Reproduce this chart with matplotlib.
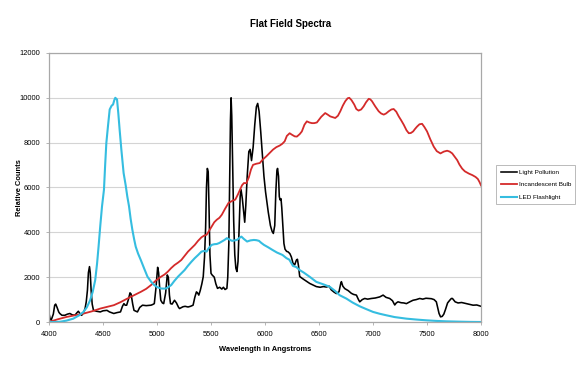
import numpy as np
import matplotlib
matplotlib.use('Agg')
import matplotlib.pyplot as plt
from matplotlib import ticker

plt.rcParams['font.family'] = ['Liberation Sans', 'DejaVu Sans']

# Light Pollution (wavelength, counts)
lp_wl = [4000, 4010, 4020, 4040, 4053, 4062, 4075, 4090, 4100, 4120, 4147, 4170, 4194, 4215,
         4240, 4260, 4272, 4290, 4303, 4320, 4334, 4345, 4356, 4365, 4375, 4382, 4390, 4400,
         4412, 4440, 4475, 4500, 4537, 4560, 4600, 4630, 4662, 4680, 4694, 4705, 4719, 4735,
         4750, 4760, 4775, 4787, 4805, 4819, 4840, 4866, 4900, 4944, 4960, 4975, 4990, 5006,
         5015, 5025, 5035, 5050, 5062, 5080, 5095, 5105, 5115, 5125, 5140, 5162, 5180, 5200,
         5209, 5240, 5260, 5287, 5310, 5334, 5350, 5365, 5375, 5387, 5400, 5415, 5428, 5440,
         5450, 5458, 5466, 5474, 5482, 5490, 5500, 5510, 5530, 5545, 5560, 5580, 5600, 5615,
         5630, 5647, 5655, 5665, 5672, 5680, 5686, 5692, 5700, 5710, 5720, 5730, 5740, 5750,
         5760, 5770, 5778, 5790, 5800, 5812, 5822, 5835, 5850, 5862, 5875, 5890, 5905, 5920,
         5932, 5945, 5960, 5975, 5990, 6005, 6015, 6030, 6050, 6065, 6077, 6090, 6100, 6110,
         6116, 6125, 6132, 6139, 6148, 6155, 6165, 6175, 6185, 6200, 6213, 6230, 6244, 6259,
         6275, 6290, 6300, 6310, 6321, 6346, 6380, 6414, 6445, 6475, 6510, 6540, 6568, 6593,
         6614, 6640, 6660, 6685, 6700, 6707, 6720, 6738, 6770, 6799, 6820, 6846, 6865, 6877,
         6900, 6923, 6950, 6985, 7020, 7062, 7093, 7120, 7154, 7180, 7201, 7215, 7231, 7260,
         7285, 7309, 7340, 7370, 7400, 7432, 7460, 7490, 7540, 7565, 7586, 7600, 7611, 7625,
         7640, 7655, 7670, 7690, 7710, 7725, 7735, 7760, 7787, 7820, 7864, 7900, 7926, 7960,
         8000]
lp_val = [400, 150, 80, 350, 750, 800, 650, 450, 380, 300, 300, 350, 380, 320,
          300, 420, 480, 350, 300, 420, 600, 900, 1420, 2200, 2470, 2200, 1420, 800,
          520, 480, 450, 500, 520, 450, 380, 420, 450, 700, 820, 750, 750, 1000,
          1300, 1250, 800, 520, 480, 450, 650, 750, 730, 750, 780, 820, 1500, 2440,
          2200, 1500, 970, 850, 820, 1300, 2100, 2000, 1200, 820, 800, 970, 850, 650,
          600, 680, 700, 670, 700, 750, 1100, 1345, 1300, 1200, 1400, 1700, 2020, 2900,
          4200, 6000, 6850, 6700, 5000, 3000, 2170, 2100, 2000, 1700, 1500, 1550, 1470, 1550,
          1450, 1500, 2000, 3500, 6000, 9000, 10000, 9200, 7000, 4500, 3000, 2400, 2250, 2700,
          4200, 5600, 5900, 5500, 5000, 4450, 5200, 6500, 7600, 7700, 7200, 7800, 8800, 9600,
          9750, 9400, 8500, 7500, 6500, 5800, 5440, 4900, 4300, 4050, 3950, 4300, 5800, 6750,
          6850, 6500, 5600, 5450, 5500, 5100, 4300, 3500, 3250, 3150, 3130, 3050, 2900, 2620,
          2550, 2760, 2800, 2500, 2030, 1940, 1830, 1720, 1650, 1580, 1550, 1580, 1560, 1600,
          1430, 1330, 1270, 1350, 1700, 1800, 1600, 1490, 1400, 1280, 1230, 1200, 1000, 900,
          1000, 1050, 1020, 1050, 1070, 1120, 1200, 1100, 1050, 950, 760, 850, 900, 860,
          850, 820, 900, 970, 1000, 1050, 1020, 1060, 1040, 1000, 900, 600, 380, 230,
          250, 350, 550, 850, 970, 1050, 1050, 900, 850, 870, 820, 780, 750, 760,
          700]

# Incandescent Bulb
ib_wl = [4000, 4080, 4162, 4240, 4319, 4400, 4475, 4540, 4600, 4660, 4725, 4790, 4850, 4900,
         4944, 4990, 5037, 5070, 5100, 5130, 5162, 5195, 5225, 5255, 5287, 5320, 5350, 5380,
         5412, 5435, 5459, 5480, 5506, 5530, 5553, 5578, 5600, 5630, 5662, 5695, 5725, 5750,
         5787, 5805, 5827, 5850, 5870, 5889, 5920, 5951, 5980, 6012, 6045, 6074, 6105, 6136,
         6160, 6182, 6202, 6228, 6250, 6275, 6295, 6321, 6341, 6365, 6387, 6410, 6434, 6455,
         6480, 6520, 6557, 6580, 6604, 6650, 6675, 6697, 6720, 6743, 6765, 6780, 6800, 6826,
         6845, 6866, 6890, 6913, 6935, 6960, 6975, 6990, 7020, 7052, 7075, 7099, 7120, 7145,
         7170, 7191, 7215, 7238, 7260, 7284, 7310, 7331, 7350, 7371, 7390, 7408, 7430, 7454,
         7475, 7500, 7530, 7562, 7590, 7624, 7655, 7686, 7710, 7733, 7755, 7779, 7800, 7825,
         7850, 7887, 7920, 7949, 7970, 7986, 8000]
ib_val = [0, 120, 225, 300, 375, 480, 600, 680, 750, 880, 1045, 1200, 1345, 1480,
          1645, 1850, 2020, 2120, 2245, 2400, 2540, 2650, 2765, 2950, 3140, 3300, 3440, 3620,
          3780, 3850, 3890, 4050, 4260, 4450, 4560, 4650, 4785, 5050, 5310, 5400, 5460, 5700,
          6100, 6200, 6190, 6450, 6800, 7010, 7060, 7090, 7250, 7390, 7550, 7690, 7800, 7870,
          7950, 8060, 8300, 8420, 8350, 8280, 8270, 8380, 8500, 8800, 8950, 8900, 8870, 8870,
          8900, 9150, 9320, 9250, 9170, 9100, 9200, 9400, 9650, 9850, 9980, 10000, 9900, 9700,
          9500, 9430, 9480, 9620, 9800, 9955, 9930, 9850, 9620, 9400, 9300, 9250, 9300, 9400,
          9480, 9500, 9380, 9170, 9000, 8800, 8550, 8420, 8430, 8500, 8620, 8720, 8820, 8840,
          8700, 8500, 8150, 7820, 7620, 7520, 7600, 7640, 7600, 7520, 7380, 7220, 7020, 6840,
          6720, 6620, 6550, 6470, 6380, 6240, 6090]

# LED Flashlight
led_wl = [4000, 4050, 4100, 4160, 4225, 4280, 4319, 4350, 4381, 4405, 4428, 4445, 4459, 4475,
          4491, 4509, 4520, 4531, 4546, 4562, 4580, 4593, 4605, 4614, 4630, 4642, 4654, 4670,
          4691, 4710, 4725, 4741, 4756, 4772, 4788, 4803, 4825, 4850, 4880, 4912, 4945, 4975,
          5005, 5037, 5060, 5084, 5105, 5131, 5160, 5194, 5225, 5256, 5285, 5319, 5350, 5381,
          5412, 5435, 5459, 5480, 5506, 5530, 5553, 5575, 5600, 5625, 5647, 5670, 5694, 5718,
          5740, 5760, 5781, 5805, 5834, 5865, 5897, 5920, 5944, 5965, 5990, 6030, 6069, 6110,
          6162, 6198, 6225, 6259, 6290, 6321, 6360, 6414, 6475, 6540, 6599, 6650, 6691, 6753,
          6810, 6877, 6940, 7000, 7060, 7123, 7200, 7309, 7400, 7494, 7580, 7679, 7800, 7900,
          8000]
led_val = [0, 0, 10, 60, 150, 300, 450, 650, 970, 1350, 1870, 2600, 3360, 4300,
           5160, 5900, 7000, 7985, 8730, 9480, 9650, 9700, 9900, 10000, 9925, 9300, 8580, 7690,
           6640, 6100, 5600, 5160, 4600, 4110, 3700, 3360, 3050, 2765, 2400, 2020, 1800, 1645,
           1550, 1495, 1490, 1495, 1560, 1645, 1830, 2020, 2170, 2320, 2500, 2690, 2850, 2990,
           3140, 3170, 3140, 3300, 3440, 3470, 3480, 3520, 3590, 3660, 3740, 3680, 3620, 3640,
           3660, 3740, 3810, 3700, 3590, 3640, 3660, 3650, 3620, 3530, 3440, 3330, 3215, 3100,
           2990, 2850, 2780, 2500, 2450, 2315, 2200, 2015, 1790, 1680, 1570, 1380, 1195, 1045,
           870, 700, 570, 450, 370, 300, 220, 150, 110, 75, 50, 30, 15, 5,
           0]

fig = plt.figure(figsize=(5.81, 3.73), dpi=100)
ax = fig.add_axes([0.0843, 0.1367, 0.7437, 0.7213])

ax.plot(lp_wl, lp_val, color='black', lw=1.15, label='Light Pollution')
ax.plot(ib_wl, ib_val, color='#d42a2a', lw=1.3, label='Incandescent Bulb')
ax.plot(led_wl, led_val, color='#35bde0', lw=1.5, label='LED Flashlight')

ax.set_xlim(4000, 8000)
ax.set_ylim(0, 12000)
ax.xaxis.set_major_locator(ticker.MultipleLocator(500))
ax.yaxis.set_major_locator(ticker.MultipleLocator(2000))
ax.yaxis.grid(True, color='#d4d4d4', lw=0.8)
ax.set_axisbelow(True)
for s in ax.spines.values():
    s.set_color('#a8a8a8')
    s.set_linewidth(0.9)
ax.tick_params(labelsize=5.4, length=2.5, width=0.6, color='#a8a8a8', pad=4)

ax.set_xlabel('Wavelength in Angstroms', fontsize=5.4, fontweight='bold', labelpad=6)
fig.text(0.033, 0.4966, 'Relative Counts', rotation=90, fontsize=5.4,
         fontweight='bold', ha='center', va='center')
fig.text(0.5, 0.936, 'Flat Field Spectra', fontsize=7, fontweight='bold',
         ha='center', va='center')

leg = fig.legend(loc='upper left', bbox_to_anchor=(0.854, 0.558), fontsize=4.6,
                 frameon=True, fancybox=False, edgecolor='#b0b0b0', framealpha=1,
                 handlelength=2.6, handletextpad=0.2, labelspacing=1.1,
                 borderpad=0.7, borderaxespad=0)
leg.get_frame().set_linewidth(0.6)

fig.savefig('out.png', dpi=100)
